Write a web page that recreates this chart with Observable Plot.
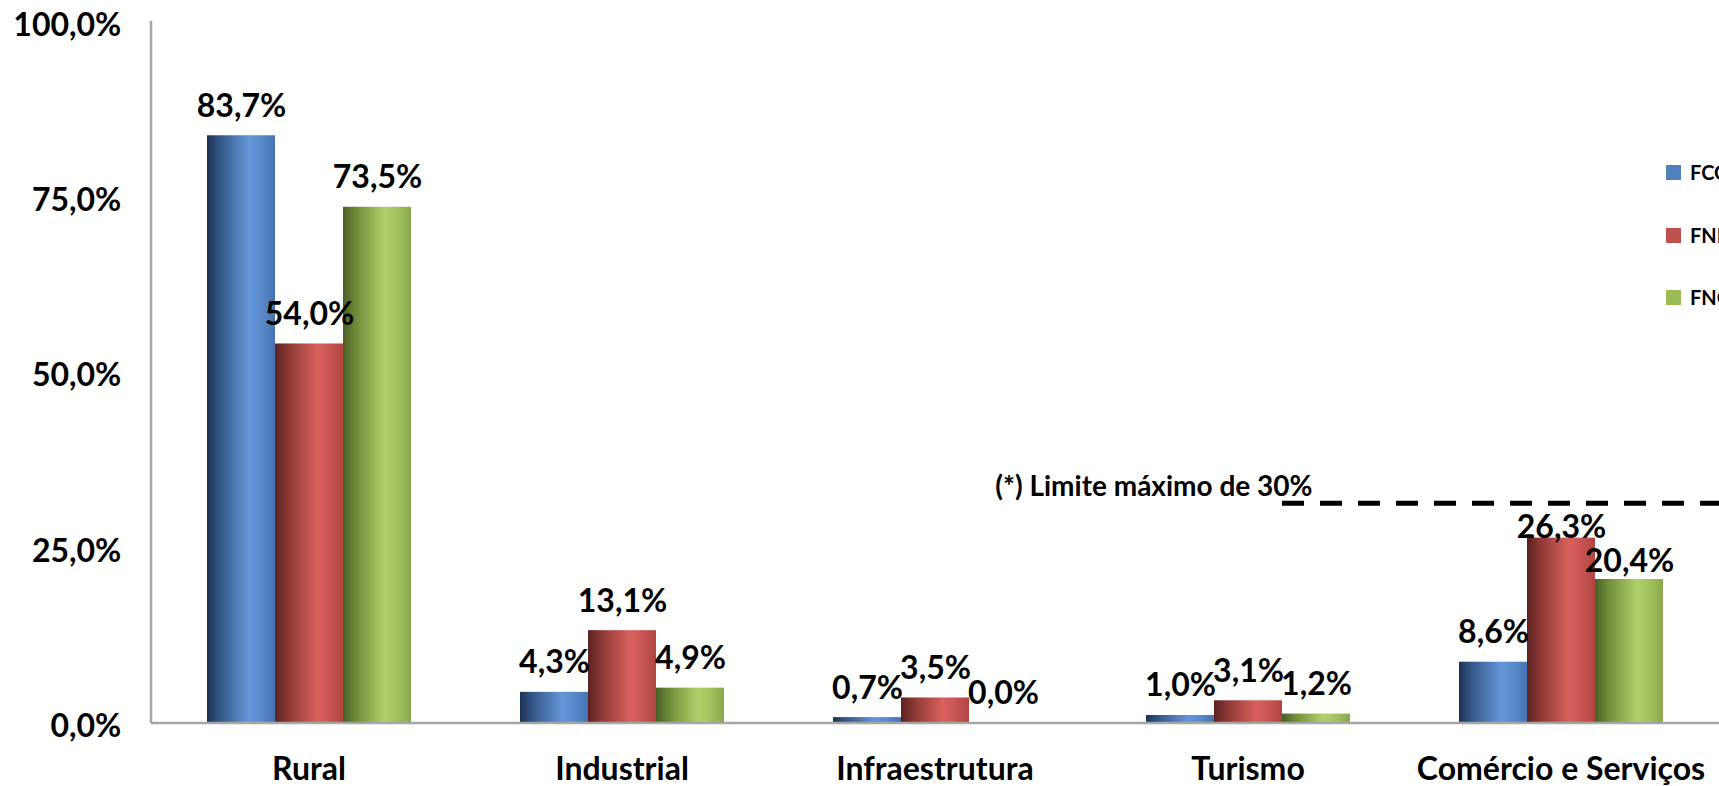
<!DOCTYPE html>
<html><head><meta charset="utf-8">
<script src="https://cdn.jsdelivr.net/npm/d3@7"></script>
<script src="https://cdn.jsdelivr.net/npm/@observablehq/plot@0.6"></script>
<style>
html,body{margin:0;padding:0;background:#fff;overflow:hidden;width:1719px;height:786px}
#chart{position:absolute;left:0;top:0}
.lg{position:absolute;left:1666px;height:15px;font-family:Lato,sans-serif;font-weight:bold;font-size:20px;line-height:15px;color:#000;white-space:nowrap}
.lg .sw{display:inline-block;width:15px;height:15px;vertical-align:top;margin-right:9px}
</style></head><body>
<svg width="0" height="0" style="position:absolute">
<defs>
<linearGradient id="gFCO" x1="0" x2="1" y1="0" y2="0">
<stop offset="0" stop-color="#1c3253"/><stop offset="0.2" stop-color="#36598a"/><stop offset="0.62" stop-color="#6597d9"/><stop offset="0.8" stop-color="#5a89c9"/><stop offset="1" stop-color="#4674b3"/>
</linearGradient>
<linearGradient id="gFNE" x1="0" x2="1" y1="0" y2="0">
<stop offset="0" stop-color="#5a2220"/><stop offset="0.2" stop-color="#8c3936"/><stop offset="0.62" stop-color="#d8615e"/><stop offset="0.8" stop-color="#c95552"/><stop offset="1" stop-color="#b04542"/>
</linearGradient>
<linearGradient id="gFNO" x1="0" x2="1" y1="0" y2="0">
<stop offset="0" stop-color="#4b5f25"/><stop offset="0.2" stop-color="#718d3b"/><stop offset="0.62" stop-color="#b1d16c"/><stop offset="0.8" stop-color="#a2c15e"/><stop offset="1" stop-color="#89a74b"/>
</linearGradient>
</defs></svg>
<div id="chart"></div>
<script>
// ---- data ----
const categories = ["Rural", "Industrial", "Infraestrutura", "Turismo", "Comércio e Serviços"];
const series = ["FCO", "FNE", "FNO"];
const valuesFCO = [83.7, 4.3, 0.7, 1.0, 8.6];
const valuesFNE = [54.0, 13.1, 3.5, 3.1, 26.3];
const valuesFNO = [73.5, 4.9, 0.0, 1.2, 20.4];
const yTicks = [0, 25, 50, 75, 100];
const limitValue = 31.2;          // dashed line
const limitLabel = "(*) Limite máximo de 30%";
const limitCategory = "Turismo";
const limitSeries = "FNO";
const legendColors = ["#4f81bd", "#c0504d", "#9bbb59"];

// ---- build table ----
const seriesValues = [valuesFCO, valuesFNE, valuesFNO];
const rows = categories.flatMap((c, i) => series.map((s, j) => ({category: c, series: s, value: seriesValues[j][i]})));
const fmt = v => v.toFixed(1).replace(".", ",") + "%";

// label nudges (labels moved in the original)
const nudge = {"Comércio e Serviços|FNE": 19, "Comércio e Serviços|FNO": 12};
const key = d => d.category + "|" + d.series;

const FONT = "Lato, 'Open Sans', sans-serif";
const FS = 32;
const labelMarks = [
  Plot.text(rows.filter(d => !(key(d) in nudge)), {fx: "category", x: "series", y: "value", text: d => fmt(d.value), dy: -19, lineAnchor: "bottom", fontSize: FS, fontWeight: "bold", fill: "#000"})
];
for (const k of Object.keys(nudge)) {
  labelMarks.push(Plot.text(rows.filter(d => key(d) === k), {fx: "category", x: "series", y: "value", text: d => fmt(d.value), dy: -19 + nudge[k], lineAnchor: "bottom", fontSize: FS, fontWeight: "bold", fill: "#000"}));
}

const W = 1719, ML = 151, MR = 1;
const padInner = 0.346, padOuter = 0.173;
const outerGap = (W - ML - MR) / categories.length * padOuter; // y axis sits on first facet's frame

const plot = Plot.plot({
  width: W, height: 786,
  marginLeft: ML, marginRight: MR, marginTop: 21, marginBottom: 64,
  style: {fontFamily: FONT, fontSize: FS + "px", fontWeight: "bold", color: "#000", background: "transparent", overflow: "visible"},
  fx: {domain: categories, paddingInner: padInner, paddingOuter: padOuter, label: null},
  x: {domain: series, padding: 0, axis: null},
  y: {domain: [0, 100], label: null},
  color: {domain: series, range: series.map(s => `url(#g${s})`)},
  marks: [
    Plot.axisY({ticks: yTicks, tickSize: 0, tickPadding: 31 + outerGap, tickFormat: fmt, label: null, fontSize: FS, fontWeight: "bold", dy: 4, fill: "#000"}),
    Plot.axisFx({anchor: "bottom", tickSize: 0, tickPadding: 35, label: null, fontSize: FS, fontWeight: "bold", fill: "#000"}),
    Plot.barY(rows, {fx: "category", x: "series", y: "value", fill: "series"}),
    ...labelMarks,
    Plot.text([{category: limitCategory, series: limitSeries, value: limitValue, label: limitLabel}],
      {fx: "category", x: "series", y: "value", text: "label", textAnchor: "end", dx: -4, dy: -8, lineAnchor: "bottom", fontSize: 28, fontWeight: "bold", fill: "#000"})
  ]
});
document.getElementById("chart").appendChild(plot);

// ---- axis lines and limit line, positioned through Plot's scales ----
const ys = plot.scale("y"), fxs = plot.scale("fx"), xs = plot.scale("x");
const svg = d3.select(plot);
const left = fxs.range[0];
const g = svg.append("g");
g.append("line").attr("x1", left).attr("x2", left).attr("y1", ys.apply(100)).attr("y2", ys.apply(0) + 1)
  .attr("stroke", "#a6a6a6").attr("stroke-width", 2.5);
g.append("line").attr("x1", left).attr("x2", W).attr("y1", ys.apply(0) + 1).attr("y2", ys.apply(0) + 1)
  .attr("stroke", "#a6a6a6").attr("stroke-width", 2.5);
const limitX = fxs.apply(limitCategory) + xs.apply(limitSeries) - xs.range[0];
g.append("line")
  .attr("x1", limitX).attr("x2", W)
  .attr("y1", ys.apply(limitValue)).attr("y2", ys.apply(limitValue))
  .attr("stroke", "#000").attr("stroke-width", 5).attr("stroke-dasharray", "22,16");

// ---- legend ----
const legendTops = [165, 228, 290];
series.forEach((s, i) => {
  const d = document.createElement("div");
  d.className = "lg";
  d.style.top = legendTops[i] + "px";
  d.innerHTML = `<span class="sw" style="background:${legendColors[i]}"></span>${s}`;
  document.body.appendChild(d);
});
</script>
</body></html>
